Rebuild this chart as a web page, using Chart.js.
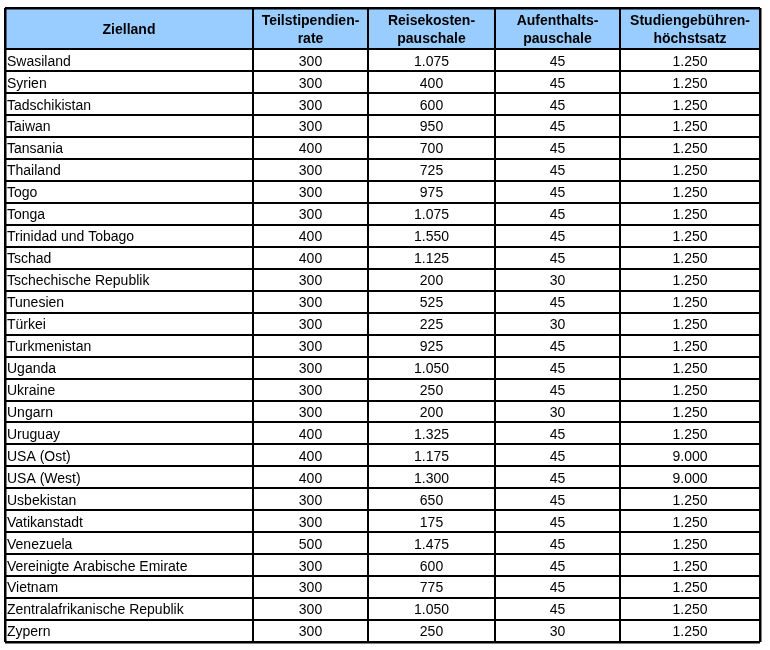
<!DOCTYPE html>
<html>
<head>
<meta charset="utf-8">
<script src="https://cdn.jsdelivr.net/npm/chart.js@4"></script>
<style>
  html, body { margin: 0; padding: 0; background: #fff; }
  canvas { display: block; }
</style>
</head>
<body>
<canvas id="table" width="770" height="650"></canvas>
<script>
/* Zielland table drawn on a Chart.js scatter grid. */
const COUNTRIES = [
  "Swasiland", "Syrien", "Tadschikistan", "Taiwan", "Tansania", "Thailand", "Togo",
  "Tonga", "Trinidad und Tobago", "Tschad", "Tschechische Republik", "Tunesien",
  "Türkei", "Turkmenistan", "Uganda", "Ukraine", "Ungarn", "Uruguay", "USA (Ost)",
  "USA (West)", "Usbekistan", "Vatikanstadt", "Venezuela", "Vereinigte Arabische Emirate",
  "Vietnam", "Zentralafrikanische Republik", "Zypern",
];
const TEILSTIPENDIUM = [300, 300, 300, 300, 400, 300, 300, 300, 400, 400, 300, 300, 300, 300,
  300, 300, 300, 400, 400, 400, 300, 300, 500, 300, 300, 300, 300];
const REISEKOSTEN = [1075, 400, 600, 950, 700, 725, 975, 1075, 1550, 1125, 200, 525, 225, 925,
  1050, 250, 200, 1325, 1175, 1300, 650, 175, 1475, 600, 775, 1050, 250];
const AUFENTHALT = [45, 45, 45, 45, 45, 45, 45, 45, 45, 45, 30, 45, 30, 45,
  45, 45, 30, 45, 45, 45, 45, 45, 45, 45, 45, 45, 30];
const STUDIENGEBUEHREN = [1250, 1250, 1250, 1250, 1250, 1250, 1250, 1250, 1250, 1250, 1250, 1250, 1250, 1250,
  1250, 1250, 1250, 1250, 9000, 9000, 1250, 1250, 1250, 1250, 1250, 1250, 1250];
const HEADERS = [
  ["Zielland"],
  ["Teilstipendien-", "rate"],
  ["Reisekosten-", "pauschale"],
  ["Aufenthalts-", "pauschale"],
  ["Studiengebühren-", "höchstsatz"],
];

// layout: column edges in px units, header height in row units
const COL_EDGES = [0, 248, 363, 490, 615, 755];
const HEADER_ROWS = 1.88;
const FONT = "'Liberation Sans', Arial, sans-serif";

function fmt(n) {
  return String(n).replace(/\B(?=(\d{3})+(?!\d))/g, ".");
}

function colPoints(values, col) {
  const x = col === 0 ? COL_EDGES[0] + 2 : (COL_EDGES[col] + COL_EDGES[col + 1]) / 2;
  return values.map((v, i) => ({ x, y: i + 0.5, label: col === 0 ? v : fmt(v) }));
}

const columns = [COUNTRIES, TEILSTIPENDIUM, REISEKOSTEN, AUFENTHALT, STUDIENGEBUEHREN];

const tablePlugin = {
  id: "tablePlugin",
  beforeDraw(chart) {
    const { ctx, scales: { x, y } } = chart;
    ctx.save();
    ctx.fillStyle = "#99ccff";
    ctx.fillRect(x.left, y.getPixelForValue(-HEADER_ROWS), x.right - x.left,
      y.getPixelForValue(0) - y.getPixelForValue(-HEADER_ROWS));
    ctx.restore();
  },
  afterDatasetsDraw(chart) {
    const { ctx, scales: { x, y } } = chart;
    ctx.save();
    ctx.fillStyle = "#000";
    ctx.textBaseline = "middle";
    // header
    ctx.font = "bold 14px " + FONT;
    ctx.textAlign = "center";
    const hy = y.getPixelForValue(-HEADER_ROWS / 2);
    HEADERS.forEach((lines, c) => {
      const cx = x.getPixelForValue((COL_EDGES[c] + COL_EDGES[c + 1]) / 2);
      if (lines.length === 1) ctx.fillText(lines[0], cx, hy + 2);
      else {
        ctx.fillText(lines[0], cx, hy - 7.5);
        ctx.fillText(lines[1], cx, hy + 11);
      }
    });
    // body cells
    ctx.font = "14px " + FONT;
    chart.data.datasets.forEach((ds, c) => {
      const meta = chart.getDatasetMeta(c);
      ctx.textAlign = c === 0 ? "left" : "center";
      meta.data.forEach((pt, i) => {
        ctx.fillText(ds.data[i].label, pt.x, pt.y + 1.5);
      });
    });
    ctx.restore();
  },
};

function edgeWidth(ctx, min, max) {
  const v = ctx.tick && ctx.tick.value;
  return v === min || v === max ? 2.5 : 2;
}

new Chart(document.getElementById("table"), {
  type: "scatter",
  data: {
    datasets: columns.map((vals, c) => ({
      data: colPoints(vals, c),
      pointRadius: 0,
      pointHoverRadius: 0,
    })),
  },
  options: {
    responsive: false,
    animation: false,
    events: [],
    layout: { padding: { left: 5, top: 8, right: 10, bottom: 8 } },
    plugins: { legend: { display: false }, tooltip: { enabled: false } },
    scales: {
      x: {
        type: "linear",
        min: COL_EDGES[0],
        max: COL_EDGES[COL_EDGES.length - 1],
        afterBuildTicks: (s) => { s.ticks = COL_EDGES.map((v) => ({ value: v })); },
        ticks: { display: false },
        border: { display: false },
        grid: { color: "#000", drawTicks: false,
          lineWidth: (ctx) => edgeWidth(ctx, COL_EDGES[0], COL_EDGES[COL_EDGES.length - 1]) },
      },
      y: {
        type: "linear",
        reverse: true,
        min: -HEADER_ROWS,
        max: COUNTRIES.length,
        afterBuildTicks: (s) => {
          s.ticks = [-HEADER_ROWS].concat(COUNTRIES.map((_, i) => i), [COUNTRIES.length])
            .map((v) => ({ value: v }));
        },
        ticks: { display: false },
        border: { display: false },
        grid: { color: "#000", drawTicks: false,
          lineWidth: (ctx) => edgeWidth(ctx, -HEADER_ROWS, COUNTRIES.length) },
      },
    },
  },
  plugins: [tablePlugin],
});
</script>
</body>
</html>
